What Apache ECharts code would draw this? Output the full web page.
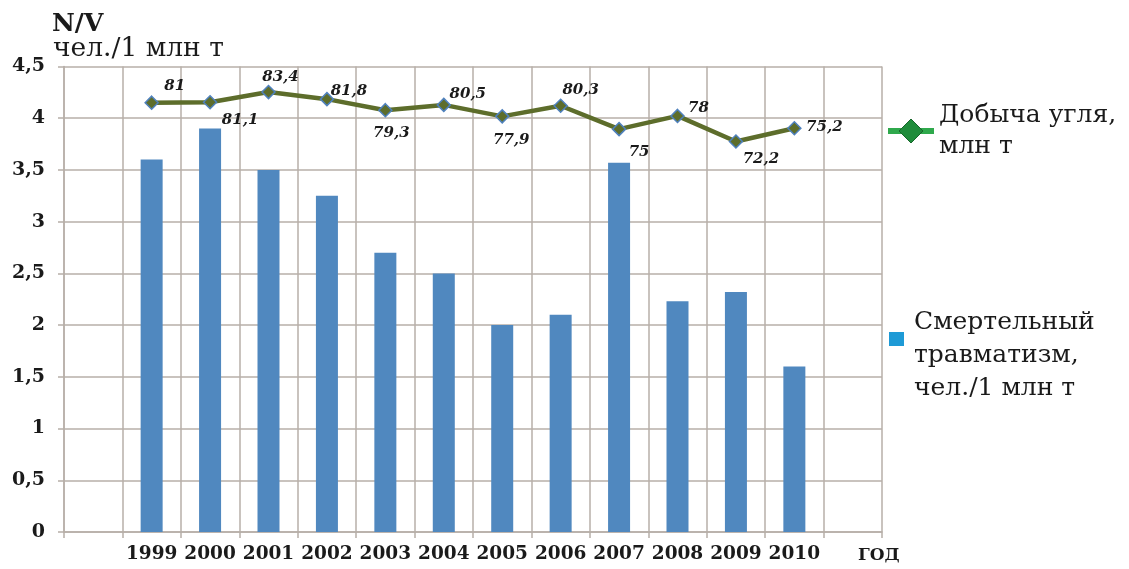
<!DOCTYPE html>
<html>
<head>
<meta charset="utf-8">
<script src="https://cdn.jsdelivr.net/npm/echarts@6/dist/echarts.min.js"></script>
<style>
  html, body { margin: 0; padding: 0; background: #ffffff; }
  #chart { width: 1129px; height: 569px; }
</style>
</head>
<body>
<div id="chart"></div>
<script>
// Years on the category axis
const years = ['1999', '2000', '2001', '2002', '2003', '2004', '2005', '2006', '2007', '2008', '2009', '2010'];
// Fatal injuries, persons per 1 mln t
const fatalityRate = [3.6, 3.9, 3.5, 3.25, 2.7, 2.5, 2.0, 2.1, 3.57, 2.23, 2.32, 1.6];
// Coal production, mln t
const coalOutput = [81, 81.1, 83.4, 81.8, 79.3, 80.5, 77.9, 80.3, 75, 78, 72.2, 75.2];
// Left axis ticks
const yTicks = { min: 0, max: 4.5, step: 0.5 };

// Placement of each production value label relative to its point
const labelShift = [[23, -17], [30, 18], [12, -15], [22, -8], [6, 23], [24, -11],
                    [9, 24], [20, -16], [20, 23], [21, -8], [25, 18], [30, -1]];

const seriesCoal = 'Добыча угля,\nмлн т';
const seriesFatal = 'Смертельный\nтравматизм,\nчел./1 млн т';

const serif = '"DejaVu Serif", "Liberation Serif", serif';
const gridColor = '#b7afa8';
const comma = v => String(v).replace('.', ',');

// one empty slot on each side of the years
const categories = [''].concat(years, ['']);
const barData = [null].concat(fatalityRate, [null]);
const lineData = [null].concat(coalOutput.map((v, i) => ({
  value: v,
  label: { offset: labelShift[i] }
})), [null]);

const chart = echarts.init(document.getElementById('chart'), null, { renderer: 'canvas' });

chart.setOption({
  animation: false,
  backgroundColor: '#ffffff',
  grid: { left: 64, right: 247, top: 66.5, bottom: 37, containLabel: false },
  xAxis: {
    type: 'category',
    data: categories,
    boundaryGap: true,
    axisLine: { show: true, lineStyle: { color: gridColor, width: 1.5 } },
    axisTick: { show: true, interval: 0, length: 6, lineStyle: { color: gridColor, width: 1.5 } },
    splitLine: { show: true, interval: 0, lineStyle: { color: gridColor, width: 1.5 } },
    axisLabel: { interval: 0, margin: 13, color: '#1a1a1a', fontFamily: serif, fontWeight: 'bold', fontSize: 18.5 },
    name: 'ГОД',
    nameLocation: 'end',
    nameGap: -24,
    nameTextStyle: {
      color: '#1a1a1a', fontFamily: serif, fontWeight: 'bold', fontSize: 17,
      align: 'left', verticalAlign: 'top', padding: [15, 0, 0, 0]
    }
  },
  yAxis: [{
    type: 'value',
    min: yTicks.min,
    max: yTicks.max,
    interval: yTicks.step,
    axisLine: { show: true, lineStyle: { color: gridColor, width: 1.5 } },
    axisTick: { show: true, length: 6, lineStyle: { color: gridColor, width: 1.5 } },
    splitLine: { show: true, lineStyle: { color: gridColor, width: 1.5 } },
    axisLabel: {
      margin: 19, color: '#1a1a1a', fontFamily: serif, fontWeight: 'bold', fontSize: 19,
      formatter: comma
    }
  }, {
    type: 'value',
    show: false,
    min: -16.3,
    max: 89.2,
    splitLine: { show: false }
  }],
  legend: [{
    left: 885,
    top: 100,
    padding: 0,
    orient: 'vertical',
    data: [{
      name: seriesCoal,
      itemStyle: { color: '#1f8c3b', borderColor: '#16662a', borderWidth: 1 },
      lineStyle: { color: '#2fa94c', width: 6 }
    }],
    itemWidth: 46,
    itemHeight: 30,
    textStyle: { fontFamily: serif, fontSize: 25, color: '#1a1a1a', lineHeight: 31 }
  }, {
    left: 889,
    top: 273,
    padding: 0,
    orient: 'vertical',
    data: [{ name: seriesFatal, icon: 'rect', itemStyle: { color: '#1e9ad6' } }],
    itemWidth: 15,
    itemHeight: 14,
    // blank first row lifts the marker toward the first text line
    formatter: name => '\n' + name,
    textStyle: { fontFamily: serif, fontSize: 25, color: '#1a1a1a', lineHeight: 33, padding: [0, 0, 0, 5] }
  }],
  graphic: [{
    type: 'text',
    left: 52, top: 12,
    style: { text: 'N/V', font: 'bold 25px ' + serif, fill: '#1a1a1a' }
  }, {
    type: 'text',
    left: 53, top: 36,
    style: { text: 'чел./1 млн т', font: '26.5px ' + serif, fill: '#1a1a1a' }
  }],
  series: [{
    name: seriesFatal,
    type: 'bar',
    data: barData,
    barWidth: 22,
    itemStyle: { color: '#5088bf' },
    z: 2
  }, {
    name: seriesCoal,
    type: 'line',
    yAxisIndex: 1,
    data: lineData,
    symbol: 'diamond',
    symbolSize: 13,
    lineStyle: { color: '#5d6d2b', width: 4.5 },
    itemStyle: { color: '#5d6d2b', borderColor: '#4f81bd', borderWidth: 1.5 },
    label: {
      show: true,
      position: 'inside',
      color: '#1a1a1a',
      fontFamily: serif,
      fontWeight: 'bold',
      fontStyle: 'italic',
      fontSize: 15,
      formatter: p => comma(p.value)
    },
    z: 5
  }]
});
</script>
</body>
</html>
